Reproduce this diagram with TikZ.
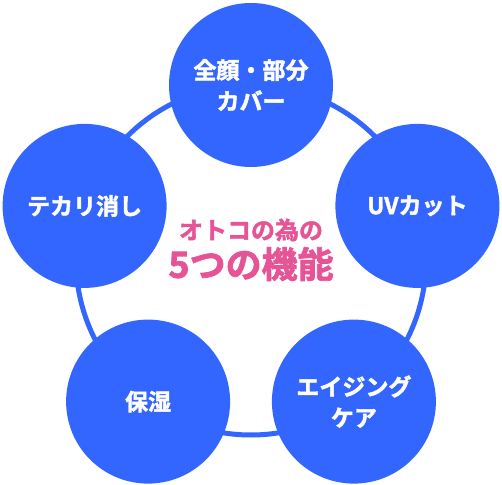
\documentclass[tikz,border=0pt]{standalone}
\usepackage{fontspec}
\newfontfamily\cjk{Noto Sans CJK JP}[BoldFont={Noto Sans CJK JP Bold}, BoldFeatures={FakeBold=2}]
\definecolor{ringblue}{RGB}{51,102,255}
\definecolor{titlepink}{RGB}{230,84,150}
\begin{document}
\begin{tikzpicture}[x=1pt,y=1pt,
  feature/.style={circle, fill=ringblue, minimum size=164pt, inner sep=0pt,
    text=white, font=\cjk\bfseries\fontsize{23}{31}\selectfont, align=center},
  ringline/.style={circle, draw=ringblue, line width=5pt, minimum size=350pt, inner sep=0pt}]
\useasboundingbox (0,0) rectangle (502,484);
\node[ringline] (ring) at (251,224) {};
\node[feature] (top) at (251,399) {全顔・部分\\カバー};
\node[feature] (right) at (417.4,278.1) {UVカット};
\node[feature] (br) at (353.9,82.4) {エイジング\\ケア};
\node[feature] (bl) at (148.1,82.4) {保湿};
\node[feature] (left) at (84.6,278.1) {テカリ消し};
\node[text=titlepink, font=\cjk\bfseries\fontsize{24}{24}\selectfont] (t1) at (251,254) {オトコの為の};
\node[text=titlepink, font=\cjk\bfseries\fontsize{36}{36}\selectfont] (t2) at (251,220) {5つの機能};
\end{tikzpicture}
\end{document}
